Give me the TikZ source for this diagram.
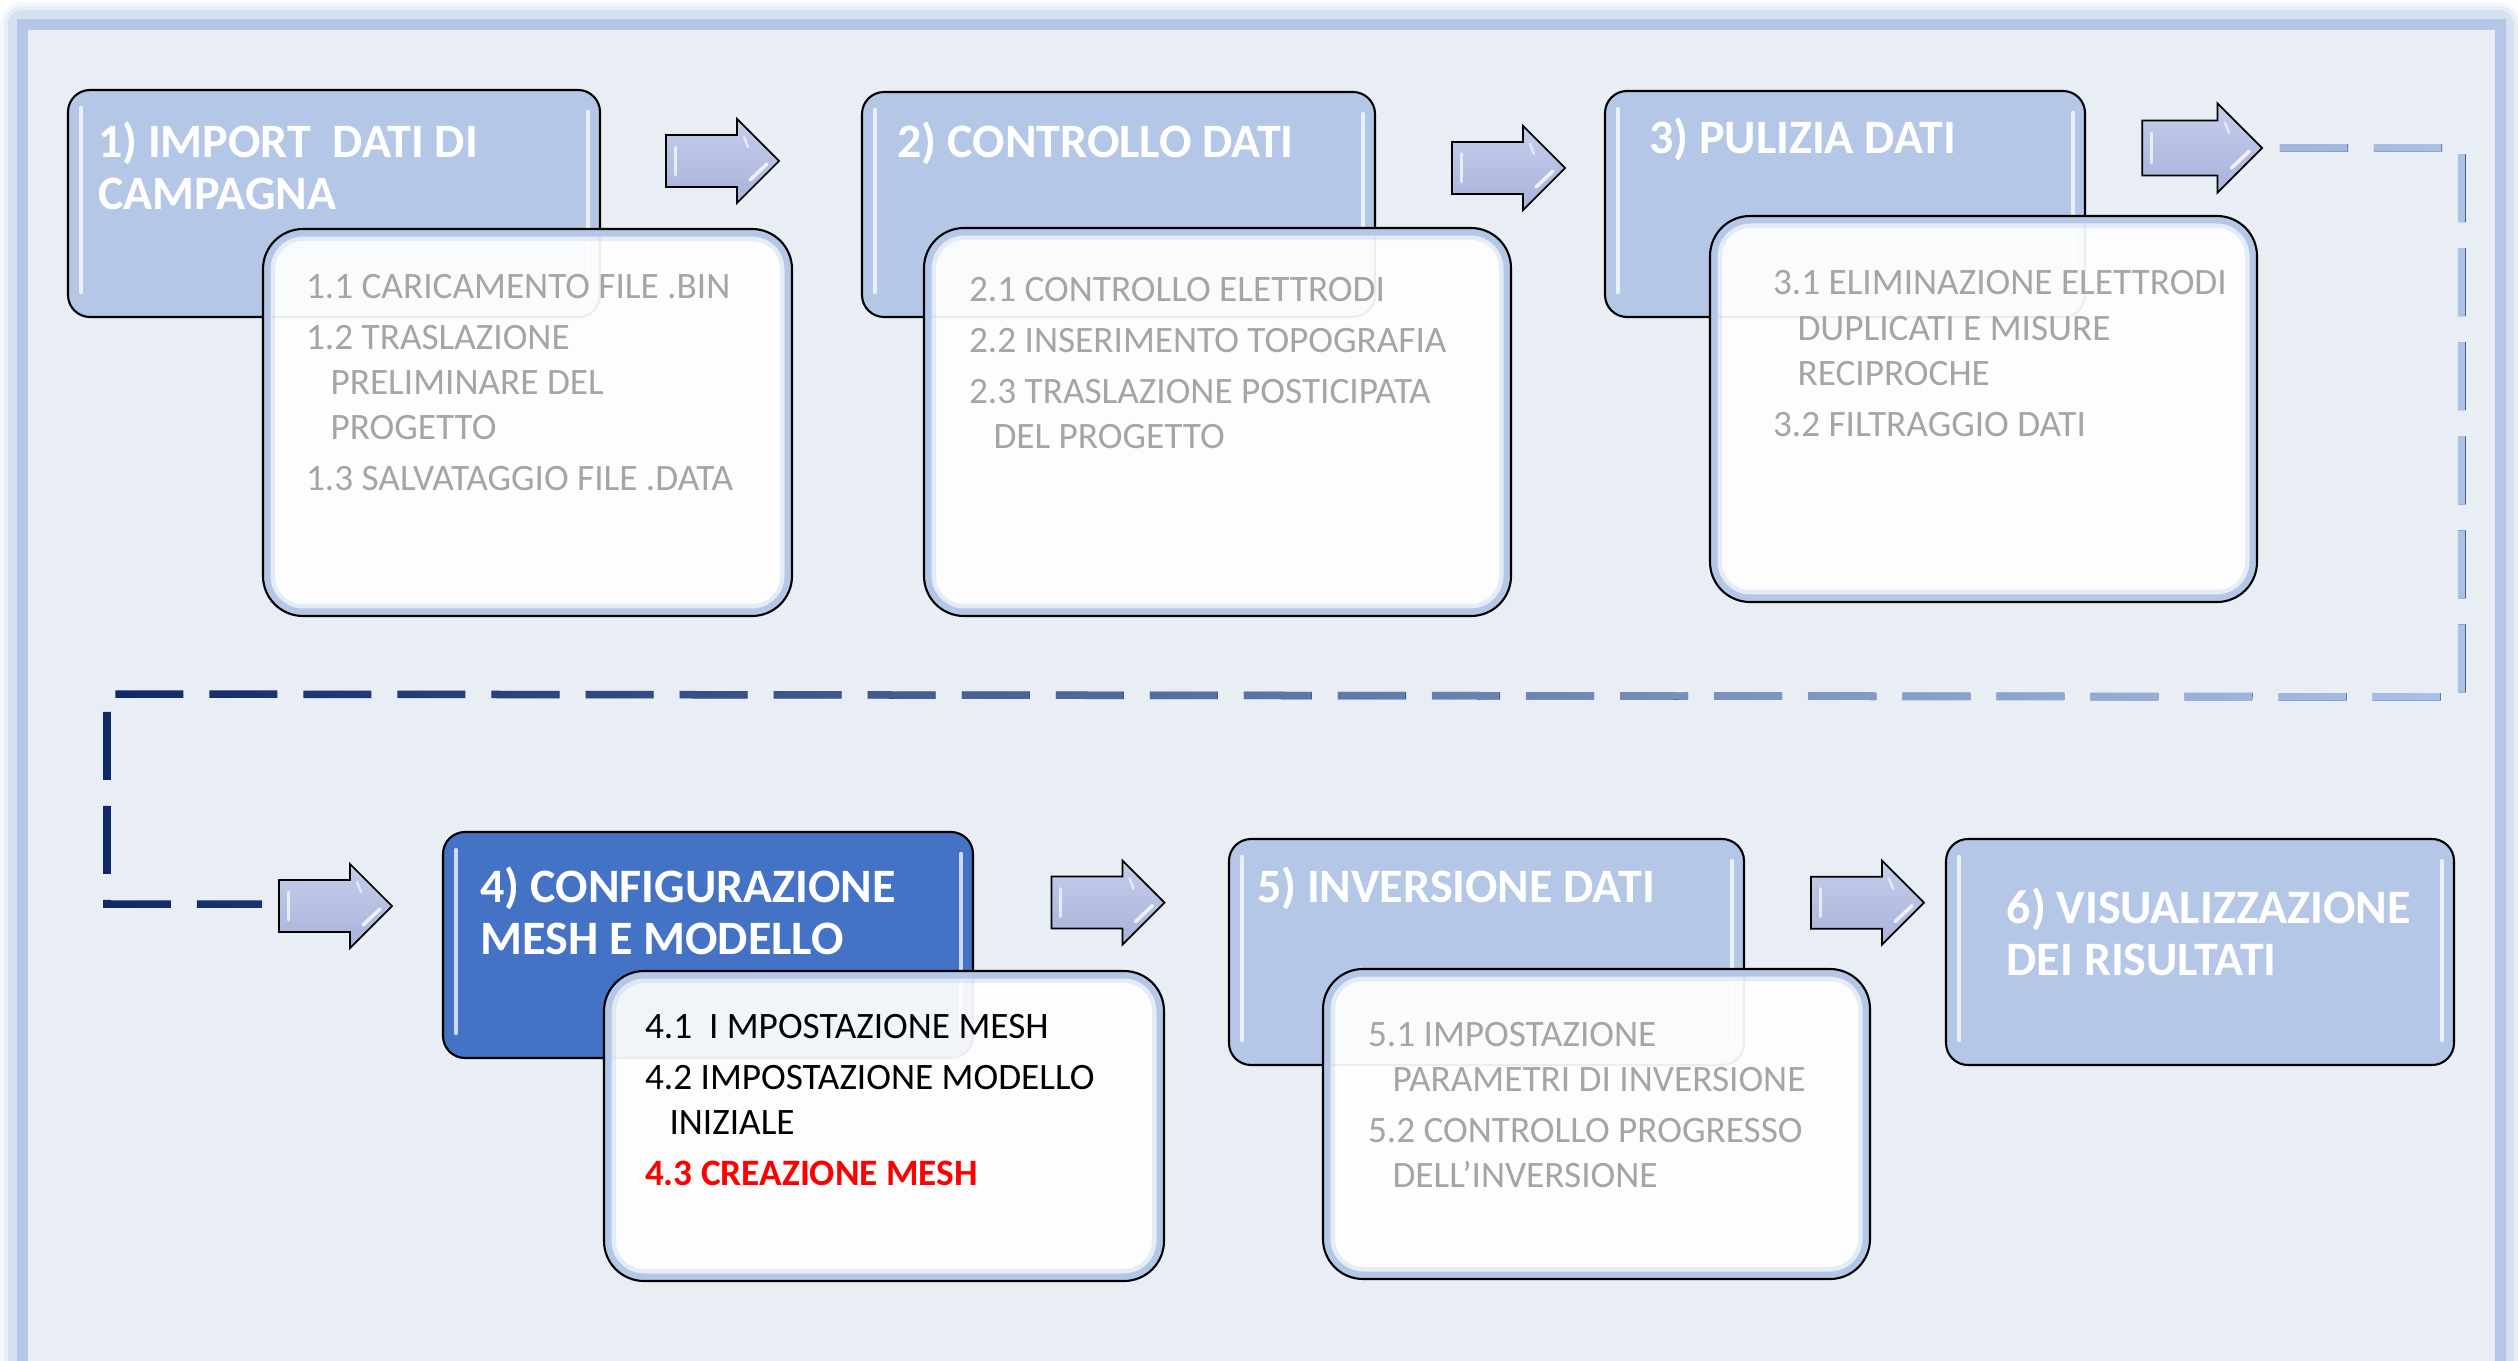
\documentclass[tikz,border=0pt]{standalone}
\usepackage{fontspec}
\setmainfont{Carlito}
\usetikzlibrary{calc,fadings}

% palette
\definecolor{framebg}{HTML}{E9EDF4}
\definecolor{frameblue}{HTML}{B4C7E7}
\definecolor{boxlight}{HTML}{B4C7E7}
\definecolor{boxdark}{HTML}{4472C4}
\definecolor{subgray}{HTML}{A5A5A5}
\definecolor{arrowtop}{HTML}{C6CEEC}
\definecolor{arrowbot}{HTML}{A8B2DA}
\definecolor{navyline}{HTML}{0E2A66}
\definecolor{paleline}{HTML}{ADC2E7}
\definecolor{alertred}{HTML}{FF0000}

% the pale copy of the route fades in from left to right
\tikzfading[name=routefade, left color=transparent!100, right color=transparent!0]

\newcommand\titlefont{\fontsize{13.65pt}{14.8pt}\selectfont\bfseries}
\newcommand\subfont{\fontsize{10.6pt}{12.8pt}\selectfont}
\newcommand\ind{\hspace*{0.245cm}}
\newcommand\txtblock[1]{\begin{minipage}[t]{9cm}#1\end{minipage}}

\tikzset{
  stageshape/.style={rectangle, anchor=north west, draw=black, line width=0.6pt,
    rounded corners=0.22cm, inner sep=0pt, outer sep=0pt},
  detailshape/.style={rectangle, anchor=north west, fill=white, fill opacity=0.93,
    draw=none, rounded corners=0.4cm, inner sep=0pt, outer sep=0pt},
  hilite/.style={white, line width=0.045cm, line cap=round, opacity=0.75},
  ttext/.style={anchor=base west, inner sep=0pt, outer sep=0pt, text=white, font=\titlefont},
  stext/.style={anchor=base west, inner sep=0pt, outer sep=0pt, text=subgray, font=\subfont},
  dashroute/.style={line width=0.075cm, dash pattern=on 0.68cm off 0.26cm, line cap=butt, line join=miter},
  blockarrow/.pic={
    \path[top color=arrowtop, bottom color=arrowbot, draw=black, line width=0.5pt, line join=miter]
      (-113,-26) -- (-42,-26) -- (-42,-42) -- (0,0) -- (-42,42) -- (-42,26) -- (-113,26) -- cycle;
    \draw[white, opacity=0.7, line width=0.03cm, line cap=round] (-104,-14) -- (-104,14);
    \draw[white, opacity=0.8, line width=0.035cm, line cap=round] (-29,19) -- (-12,3);
    \draw[white, opacity=0.6, line width=0.025cm, line cap=round] (-35,-24) -- (-31,-14);
  }
}

% stage box: name, x1, y1, x2, y2, fill
\newcommand\stagebox[6]{%
  \node[stageshape, fill=#6, minimum width={(#4-#2)*0.01cm}, minimum height={(#5-#3)*0.01cm}] (#1) at (#2,#3) {};
  \draw[hilite] ($(#1.north west)+(13,18)$) -- ($(#1.south west)+(13,-25)$);
  \draw[hilite] ($(#1.north east)+(-12,22)$) -- ($(#1.south east)+(-12,-25)$);
}
% detail box: name, x1, y1, x2, y2
\newcommand\detailbox[5]{%
  \node[detailshape, minimum width={(#4-#2)*0.01cm}, minimum height={(#5-#3)*0.01cm}] (#1) at (#2,#3) {};
  \begin{scope}
    \clip[rounded corners=0.4cm] (#1.north west) rectangle (#1.south east);
    \draw[frameblue, line width=0.24cm, opacity=0.3, rounded corners=0.4cm] (#1.north west) rectangle (#1.south east);
    \draw[frameblue, line width=0.15cm, rounded corners=0.4cm] (#1.north west) rectangle (#1.south east);
  \end{scope}
  \draw[black, line width=0.6pt, rounded corners=0.4cm] (#1.north west) rectangle (#1.south east);
}

\begin{document}
\begin{tikzpicture}[x=0.01cm, y=-0.01cm]
\useasboundingbox (0,0) rectangle (2518,1361);
\clip (0,0) rectangle (2518,1361);
\fill[white] (0,0) rectangle (2518,1361);

% frame: soft glow, panel, solid border
\foreach \w/\o in {0.44/0.12, 0.36/0.2, 0.28/0.35}
  \draw[frameblue, line width=\w cm, opacity=\o, line join=round]
    (22.5,1420) -- (22.5,24.5) -- (2500,24.5) -- (2500,1420);
\fill[framebg] (28,29) rectangle (2495,1420);
\draw[frameblue, line width=0.11cm, line join=miter]
  (22.5,1420) -- (22.5,24.5) -- (2500,24.5) -- (2500,1420);

% dashed route from the first row to the second row
\coordinate (r0) at (2280,148);
\coordinate (r1) at (2462,148);
\coordinate (r2) at (2462,697);
\coordinate (r3) at (107,694);
\coordinate (r4) at (107,904);
\coordinate (r5) at (262,904);
\draw[dashroute, navyline] (r0) -- (r1) -- (r2) -- (r3) -- (r4) -- (r5);
\draw[dashroute, paleline, path fading=routefade] (r0) -- (r1) -- (r2) -- (r3) -- (r4) -- (r5);

% block arrows between the stages
\pic at (779,161) {blockarrow};
\pic at (1565,168) {blockarrow};
\pic[scale=1.06] at (2262,148) {blockarrow};
\pic at (392,906) {blockarrow};
\pic at (1164.5,902.6) {blockarrow};
\pic at (1924,902.7) {blockarrow};

% first row
\stagebox{b1}{68}{90}{600}{317}{boxlight}
\detailbox{d1}{263}{229}{792}{616}
\stagebox{b2}{862}{92}{1375}{317}{boxlight}
\detailbox{d2}{924}{228}{1511}{616}
\stagebox{b3}{1605}{91}{2085}{317}{boxlight}
\detailbox{d3}{1710}{216}{2257}{602}

% second row
\stagebox{b4}{443}{832}{973}{1058}{boxdark}
\detailbox{d4}{604}{971}{1164}{1281}
\stagebox{b5}{1229}{839}{1744}{1065}{boxlight}
\detailbox{d5}{1323}{969}{1870}{1279}
\stagebox{b6}{1946}{839}{2454}{1065}{boxlight}

% stage titles
\node[ttext] (t1) at (98,157.5) {\txtblock{1) IMPORT\ \ DATI DI\\CAMPAGNA}};
\node[ttext] (t2) at (897.5,157.5) {\txtblock{2) CONTROLLO DATI}};
\node[ttext] (t3) at (1649,153.8) {\txtblock{3) PULIZIA DATI}};
\node[ttext] (t4) at (480.5,902.6) {\txtblock{4) CONFIGURAZIONE\\MESH E MODELLO}};
\node[ttext] (t5) at (1257,902) {\txtblock{5) INVERSIONE DATI}};
\node[ttext] (t6) at (2006.7,923.4) {\txtblock{6) VISUALIZZAZIONE\\DEI RISULTATI}};

% stage details
\node[stext] (s1) at (306,298.5) {\txtblock{1.1 CARICAMENTO FILE .BIN\\[1.7pt]
  1.2 TRASLAZIONE\\\ind PRELIMINARE DEL\\\ind PROGETTO\\[1.7pt]
  1.3 SALVATAGGIO FILE .DATA}};
\node[stext] (s2) at (969,301.4) {\txtblock{2.1 CONTROLLO ELETTRODI\\[1.7pt]
  2.2 INSERIMENTO TOPOGRAFIA\\[1.7pt]
  2.3 TRASLAZIONE POSTICIPATA\\\ind DEL PROGETTO}};
\node[stext] (s3) at (1773,295) {\txtblock{3.1 ELIMINAZIONE ELETTRODI\\\ind DUPLICATI E MISURE\\\ind RECIPROCHE\\[1.7pt]
  3.2 FILTRAGGIO DATI}};
\node[stext, text=black] (s4) at (645,1038.7) {\txtblock{4.1\ \ I MPOSTAZIONE MESH\\[1.7pt]
  4.2 IMPOSTAZIONE MODELLO\\\ind INIZIALE\\[1.7pt]
  \textcolor{alertred}{\bfseries 4.3 CREAZIONE MESH}}};
\node[stext] (s5) at (1368,1046) {\txtblock{5.1 IMPOSTAZIONE\\\ind PARAMETRI DI INVERSIONE\\[1.7pt]
  5.2 CONTROLLO PROGRESSO\\\ind DELL’INVERSIONE}};
\end{tikzpicture}
\end{document}
